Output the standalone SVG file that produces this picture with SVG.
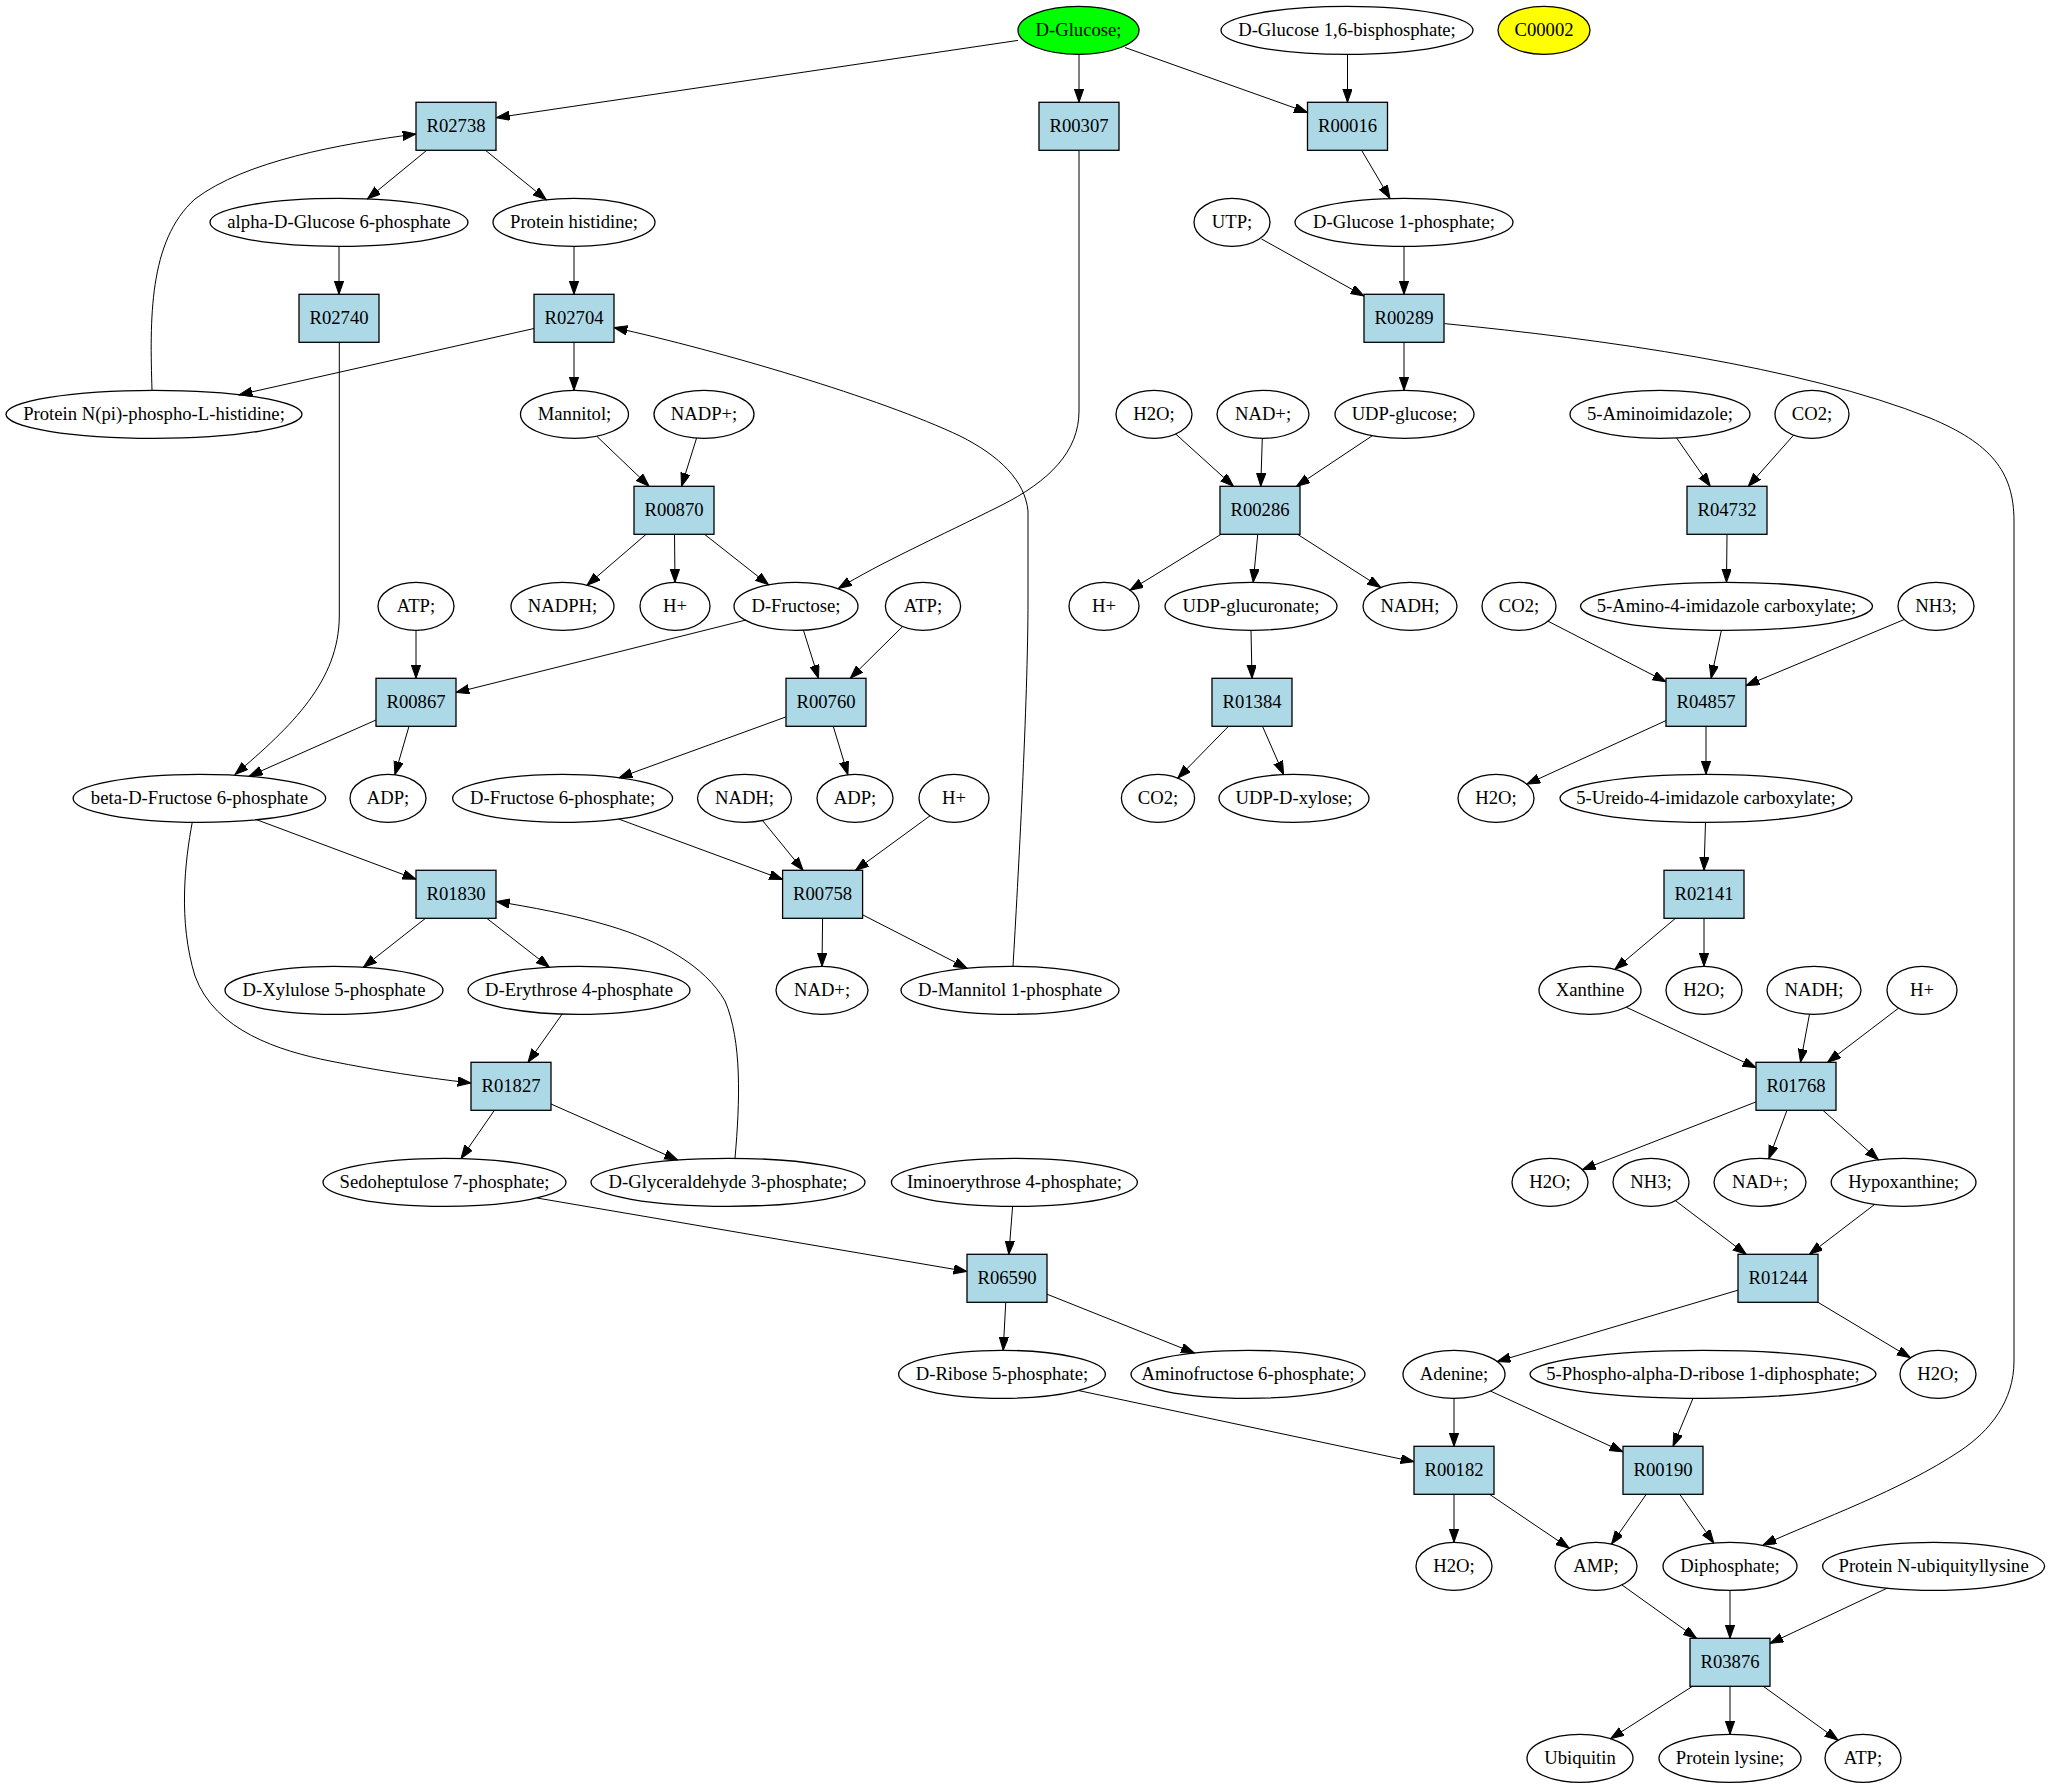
<svg xmlns="http://www.w3.org/2000/svg" width="2051" height="1787" viewBox="0 0 2051 1787">
<style>
.e{fill:none;stroke:#000;stroke-width:1.3}
.b{fill:#add8e6;stroke:#000;stroke-width:1.3}
text{font-family:"Liberation Serif","Times New Roman",serif;font-size:18.67px;text-anchor:middle;fill:#000}
#edges path{fill:none;stroke:#000;stroke-width:1;marker-end:url(#ah)}
</style>
<defs>
<marker id="ah" markerUnits="userSpaceOnUse" markerWidth="14" markerHeight="10" refX="13.3" refY="4.67" orient="auto">
<path d="M0,0 L13.3,4.67 L0,9.33 Z" fill="#000" stroke="#000" stroke-width="1"/>
</marker>
</defs>
<rect width="2051" height="1787" fill="#fff"/>
<g transform="translate(0,1)">
<g id="edges">
<path d="M1018,39.4 L496.4,116.7"/>
<path d="M1079,53.3 L1079,101.3"/>
<path d="M1125,46.5 L1307.5,111.5"/>
<path d="M1347.5,53.3 L1347.5,101.3"/>
<path d="M426.75,149.3 L367.5,197.9"/>
<path d="M485.5,149.3 L546.3,198.7"/>
<path d="M152,389.3 C150,320 148,240 195,198 C245,160 340,143 416,133"/>
<path d="M339,245.3 L339,293.3"/>
<path d="M574,245.3 L574,293.3"/>
<path d="M339.3,341.3 L339.3,615 C339,680 292,725 235,773.5"/>
<path d="M534,327.5 L239,393.8"/>
<path d="M574,341.3 L574,389.3"/>
<path d="M1013,965.3 C1018,880 1028,700 1028,600 L1028,510 C1025,480 1000,455 960,435 C880,397 720,350 614,326.5"/>
<path d="M1361.6,149.3 L1390,197.5"/>
<path d="M1261.5,238 L1364,295"/>
<path d="M1404,245.3 L1404,293.3"/>
<path d="M1404,341.3 L1404,389.3"/>
<path d="M1444.5,322.6 C1600,338 1800,365 1930,417 C1990,442 2014,470 2014,520 L2014,1360 C2014,1400 1990,1430 1960,1450 C1900,1490 1820,1518 1763,1544"/>
<path d="M597,435.5 L649.1,485.3"/>
<path d="M696.6,437 L681.5,485.3"/>
<path d="M646.1,533.3 L587,584.2"/>
<path d="M674.5,533.3 L675,581.3"/>
<path d="M704.5,533.3 L768.6,583.8"/>
<path d="M1079,149.3 L1079,410 C1079,450 1050,480 1000,505 C940,535 880,562 838.4,587.5"/>
<path d="M1175.7,433 L1233.5,485.3"/>
<path d="M1262.3,437.3 L1260.75,485.3"/>
<path d="M1372.5,434.6 L1296.4,485.3"/>
<path d="M1221,533.3 L1130,589.3"/>
<path d="M1257.75,533.3 L1253.2,581.3"/>
<path d="M1297.5,533.3 L1380.7,586.5"/>
<path d="M1676.5,436.9 L1710.25,485.3"/>
<path d="M1793.6,434.1 L1748.25,485.3"/>
<path d="M1727,533.3 L1726.5,581.3"/>
<path d="M416,629.3 L416,677.3"/>
<path d="M746,619 L456,691.5"/>
<path d="M803.4,629.1 L818.5,677.3"/>
<path d="M902.6,625.5 L850.25,677.3"/>
<path d="M1251,629.3 L1252,677.3"/>
<path d="M1548,620.2 L1666,680.8"/>
<path d="M1721.4,629.3 L1711.1,677.3"/>
<path d="M1904.3,618.5 L1746,684.6"/>
<path d="M376,719 L249.2,775.2"/>
<path d="M409,725.3 L394.9,773.7"/>
<path d="M786,715.9 L619.1,776.7"/>
<path d="M833.25,725.3 L847.9,773.7"/>
<path d="M1228.5,725.3 L1177.8,777.1"/>
<path d="M1262.5,725.3 L1283.6,773.5"/>
<path d="M1666,719.6 L1526.8,783.2"/>
<path d="M1706,725.3 L1706,773.3"/>
<path d="M256.6,818.7 L416,878.3"/>
<path d="M192.3,821 C185,860 178,920 195,975 C215,1030 280,1050 330,1060 C380,1070 420,1076 471,1082"/>
<path d="M618.6,818 L782.6,878.5"/>
<path d="M762.5,819.5 L803.1,869.3"/>
<path d="M930,814.8 L855.45,869.3"/>
<path d="M1705.5,821.3 L1704,869.3"/>
<path d="M425.5,917.3 L363.4,966.2"/>
<path d="M486.75,917.3 L549.4,966.2"/>
<path d="M735,1157.3 C740,1100 742,1040 725,1000 C705,965 660,940 610,925 C570,913 530,906 496.4,900.5"/>
<path d="M822.6,917.3 L822,965.3"/>
<path d="M862.6,913.8 L967,967.3"/>
<path d="M1675.5,917.3 L1614.9,968.4"/>
<path d="M1704,917.3 L1704,965.3"/>
<path d="M562.2,1013 L528,1061.3"/>
<path d="M1626.2,1006.2 L1756,1066.7"/>
<path d="M1809.5,1013.2 L1800.5,1061.3"/>
<path d="M1898.6,1007.1 L1827.5,1061.3"/>
<path d="M494.4,1109.3 L461,1157.5"/>
<path d="M551,1103 L677.6,1159"/>
<path d="M1756,1100.9 L1582.3,1168.7"/>
<path d="M1787,1109.3 L1768.8,1157.7"/>
<path d="M1822.9,1109.3 L1878.4,1158.8"/>
<path d="M537,1197 L967,1270.5"/>
<path d="M1012.6,1205.3 L1008.85,1253.3"/>
<path d="M1675.4,1199.7 L1746.25,1253.3"/>
<path d="M1874.8,1203.3 L1809.4,1253.3"/>
<path d="M1005.75,1301.3 L1003.2,1349.3"/>
<path d="M1047,1293.2 L1194.4,1352"/>
<path d="M1738,1289.2 L1497.2,1360.5"/>
<path d="M1818,1301.3 L1910.4,1356.8"/>
<path d="M1078.3,1389.5 L1414,1460.8"/>
<path d="M1454,1397.3 L1454,1445.3"/>
<path d="M1490.5,1390.1 L1623,1450.9"/>
<path d="M1693,1397.3 L1673,1445.3"/>
<path d="M1454,1493.3 L1454,1541.3"/>
<path d="M1489.5,1493.3 L1569.2,1547.2"/>
<path d="M1646.25,1493.3 L1611.5,1543.1"/>
<path d="M1679.75,1493.3 L1713.8,1542"/>
<path d="M1621.9,1583.9 L1696.5,1637.3"/>
<path d="M1730,1589.3 L1730,1637.3"/>
<path d="M1887.3,1587.1 L1770,1642.4"/>
<path d="M1692.5,1685.3 L1610.6,1737.7"/>
<path d="M1730,1685.3 L1730,1733.3"/>
<path d="M1763.25,1685.3 L1838,1739.2"/>
</g>
<!-- rank 0 -->
<g id="n_dglucose"><ellipse class="e" cx="1078.5" cy="29.3" rx="60.5" ry="24" style="fill:#00ff00"/><text x="1078.5" y="35.3">D-Glucose;</text></g>
<g id="n_dglc16bp"><ellipse class="e" cx="1347" cy="29.3" rx="126" ry="24"/><text x="1347" y="35.3">D-Glucose 1,6-bisphosphate;</text></g>
<g id="n_c00002"><ellipse class="e" cx="1544" cy="29.3" rx="46" ry="24" style="fill:#ffff00"/><text x="1544" y="35.3">C00002</text></g>
<!-- rank 1 -->
<g id="R02738"><rect class="b" x="416" y="101.3" width="80" height="48"/><text x="456" y="131.3">R02738</text></g>
<g id="R00307"><rect class="b" x="1039" y="101.3" width="80" height="48"/><text x="1079" y="131.3">R00307</text></g>
<g id="R00016"><rect class="b" x="1307.5" y="101.3" width="80" height="48"/><text x="1347.5" y="131.3">R00016</text></g>
<!-- rank 2 -->
<g id="n_ag6p"><ellipse class="e" cx="339" cy="221.3" rx="129" ry="24"/><text x="339" y="227.3">alpha-D-Glucose 6-phosphate</text></g>
<g id="n_prothis"><ellipse class="e" cx="574" cy="221.3" rx="81" ry="24"/><text x="574" y="227.3">Protein histidine;</text></g>
<g id="n_utp"><ellipse class="e" cx="1232" cy="221.3" rx="38" ry="24"/><text x="1232" y="227.3">UTP;</text></g>
<g id="n_g1p"><ellipse class="e" cx="1404" cy="221.3" rx="109" ry="24"/><text x="1404" y="227.3">D-Glucose 1-phosphate;</text></g>
<!-- rank 3 -->
<g id="R02740"><rect class="b" x="299" y="293.3" width="80" height="48"/><text x="339" y="323.3">R02740</text></g>
<g id="R02704"><rect class="b" x="534" y="293.3" width="80" height="48"/><text x="574" y="323.3">R02704</text></g>
<g id="R00289"><rect class="b" x="1364" y="293.3" width="80" height="48"/><text x="1404" y="323.3">R00289</text></g>
<!-- rank 4 -->
<g id="n_protnpi"><ellipse class="e" cx="154" cy="413.3" rx="148" ry="24"/><text x="154" y="419.3">Protein N(pi)-phospho-L-histidine;</text></g>
<g id="n_mannitol"><ellipse class="e" cx="574.5" cy="413.3" rx="54" ry="24"/><text x="574.5" y="419.3">Mannitol;</text></g>
<g id="n_nadp"><ellipse class="e" cx="704" cy="413.3" rx="50" ry="24"/><text x="704" y="419.3">NADP+;</text></g>
<g id="n_h2o_a"><ellipse class="e" cx="1154" cy="413.3" rx="38" ry="24"/><text x="1154" y="419.3">H2O;</text></g>
<g id="n_nad_a"><ellipse class="e" cx="1263" cy="413.3" rx="46" ry="24"/><text x="1263" y="419.3">NAD+;</text></g>
<g id="n_udpglc"><ellipse class="e" cx="1404.5" cy="413.3" rx="69.5" ry="24"/><text x="1404.5" y="419.3">UDP-glucose;</text></g>
<g id="n_5ai"><ellipse class="e" cx="1660" cy="413.3" rx="90" ry="24"/><text x="1660" y="419.3">5-Aminoimidazole;</text></g>
<g id="n_co2_a"><ellipse class="e" cx="1812" cy="413.3" rx="37" ry="24"/><text x="1812" y="419.3">CO2;</text></g>
<!-- rank 5 -->
<g id="R00870"><rect class="b" x="634" y="485.3" width="80" height="48"/><text x="674" y="515.3">R00870</text></g>
<g id="R00286"><rect class="b" x="1220" y="485.3" width="80" height="48"/><text x="1260" y="515.3">R00286</text></g>
<g id="R04732"><rect class="b" x="1687" y="485.3" width="80" height="48"/><text x="1727" y="515.3">R04732</text></g>
<!-- rank 6 -->
<g id="n_atp_a"><ellipse class="e" cx="416" cy="605.3" rx="38" ry="24"/><text x="416" y="611.3">ATP;</text></g>
<g id="n_nadph"><ellipse class="e" cx="562.5" cy="605.3" rx="51.5" ry="24"/><text x="562.5" y="611.3">NADPH;</text></g>
<g id="n_h_a"><ellipse class="e" cx="675" cy="605.3" rx="35" ry="24"/><text x="675" y="611.3">H+</text></g>
<g id="n_dfru"><ellipse class="e" cx="796" cy="605.3" rx="62" ry="24"/><text x="796" y="611.3">D-Fructose;</text></g>
<g id="n_atp_b"><ellipse class="e" cx="923" cy="605.3" rx="37.6" ry="24"/><text x="923" y="611.3">ATP;</text></g>
<g id="n_h_b"><ellipse class="e" cx="1104" cy="605.3" rx="35" ry="24"/><text x="1104" y="611.3">H+</text></g>
<g id="n_udpglcu"><ellipse class="e" cx="1251" cy="605.3" rx="86" ry="24"/><text x="1251" y="611.3">UDP-glucuronate;</text></g>
<g id="n_nadh_a"><ellipse class="e" cx="1410" cy="605.3" rx="47" ry="24"/><text x="1410" y="611.3">NADH;</text></g>
<g id="n_co2_b"><ellipse class="e" cx="1519" cy="605.3" rx="37" ry="24"/><text x="1519" y="611.3">CO2;</text></g>
<g id="n_5a4ic"><ellipse class="e" cx="1726.5" cy="605.3" rx="146" ry="24"/><text x="1726.5" y="611.3">5-Amino-4-imidazole carboxylate;</text></g>
<g id="n_nh3_a"><ellipse class="e" cx="1936" cy="605.3" rx="38" ry="24"/><text x="1936" y="611.3">NH3;</text></g>
<!-- rank 7 -->
<g id="R00867"><rect class="b" x="376" y="677.3" width="80" height="48"/><text x="416" y="707.3">R00867</text></g>
<g id="R00760"><rect class="b" x="786" y="677.3" width="80" height="48"/><text x="826" y="707.3">R00760</text></g>
<g id="R01384"><rect class="b" x="1212" y="677.3" width="80" height="48"/><text x="1252" y="707.3">R01384</text></g>
<g id="R04857"><rect class="b" x="1666" y="677.3" width="80" height="48"/><text x="1706" y="707.3">R04857</text></g>
<!-- rank 8 -->
<g id="n_bf6p"><ellipse class="e" cx="199.4" cy="797.3" rx="126.3" ry="24"/><text x="199.4" y="803.3">beta-D-Fructose 6-phosphate</text></g>
<g id="n_adp_a"><ellipse class="e" cx="388" cy="797.3" rx="38" ry="24"/><text x="388" y="803.3">ADP;</text></g>
<g id="n_df6p"><ellipse class="e" cx="562.6" cy="797.3" rx="110" ry="24"/><text x="562.6" y="803.3">D-Fructose 6-phosphate;</text></g>
<g id="n_nadh_b"><ellipse class="e" cx="744.5" cy="797.3" rx="47" ry="24"/><text x="744.5" y="803.3">NADH;</text></g>
<g id="n_adp_b"><ellipse class="e" cx="855" cy="797.3" rx="38" ry="24"/><text x="855" y="803.3">ADP;</text></g>
<g id="n_h_c"><ellipse class="e" cx="954" cy="797.3" rx="35" ry="24"/><text x="954" y="803.3">H+</text></g>
<g id="n_co2_c"><ellipse class="e" cx="1158" cy="797.3" rx="36.6" ry="24"/><text x="1158" y="803.3">CO2;</text></g>
<g id="n_udpxyl"><ellipse class="e" cx="1294" cy="797.3" rx="75" ry="24"/><text x="1294" y="803.3">UDP-D-xylose;</text></g>
<g id="n_h2o_b"><ellipse class="e" cx="1496" cy="797.3" rx="38" ry="24"/><text x="1496" y="803.3">H2O;</text></g>
<g id="n_5u4ic"><ellipse class="e" cx="1706" cy="797.3" rx="146" ry="24"/><text x="1706" y="803.3">5-Ureido-4-imidazole carboxylate;</text></g>
<!-- rank 9 -->
<g id="R01830"><rect class="b" x="416" y="869.3" width="80" height="48"/><text x="456" y="899.3">R01830</text></g>
<g id="R00758"><rect class="b" x="782.6" y="869.3" width="80" height="48"/><text x="822.6" y="899.3">R00758</text></g>
<g id="R02141"><rect class="b" x="1664" y="869.3" width="80" height="48"/><text x="1704" y="899.3">R02141</text></g>
<!-- rank 10 -->
<g id="n_xu5p"><ellipse class="e" cx="334" cy="989.3" rx="109" ry="24"/><text x="334" y="995.3">D-Xylulose 5-phosphate</text></g>
<g id="n_e4p"><ellipse class="e" cx="579" cy="989.3" rx="111" ry="24"/><text x="579" y="995.3">D-Erythrose 4-phosphate</text></g>
<g id="n_nad_b"><ellipse class="e" cx="822" cy="989.3" rx="46" ry="24"/><text x="822" y="995.3">NAD+;</text></g>
<g id="n_m1p"><ellipse class="e" cx="1010" cy="989.3" rx="109" ry="24"/><text x="1010" y="995.3">D-Mannitol 1-phosphate</text></g>
<g id="n_xanthine"><ellipse class="e" cx="1590" cy="989.3" rx="51" ry="24"/><text x="1590" y="995.3">Xanthine</text></g>
<g id="n_h2o_c"><ellipse class="e" cx="1704" cy="989.3" rx="38" ry="24"/><text x="1704" y="995.3">H2O;</text></g>
<g id="n_nadh_c"><ellipse class="e" cx="1814" cy="989.3" rx="47" ry="24"/><text x="1814" y="995.3">NADH;</text></g>
<g id="n_h_d"><ellipse class="e" cx="1922" cy="989.3" rx="35" ry="24"/><text x="1922" y="995.3">H+</text></g>
<!-- rank 11 -->
<g id="R01827"><rect class="b" x="471" y="1061.3" width="80" height="48"/><text x="511" y="1091.3">R01827</text></g>
<g id="R01768"><rect class="b" x="1756" y="1061.3" width="80" height="48"/><text x="1796" y="1091.3">R01768</text></g>
<!-- rank 12 -->
<g id="n_s7p"><ellipse class="e" cx="444.5" cy="1181.3" rx="121.5" ry="24"/><text x="444.5" y="1187.3">Sedoheptulose 7-phosphate;</text></g>
<g id="n_g3p"><ellipse class="e" cx="728" cy="1181.3" rx="137" ry="24"/><text x="728" y="1187.3">D-Glyceraldehyde 3-phosphate;</text></g>
<g id="n_imino"><ellipse class="e" cx="1014.4" cy="1181.3" rx="123" ry="24"/><text x="1014.4" y="1187.3">Iminoerythrose 4-phosphate;</text></g>
<g id="n_h2o_d"><ellipse class="e" cx="1550" cy="1181.3" rx="38" ry="24"/><text x="1550" y="1187.3">H2O;</text></g>
<g id="n_nh3_b"><ellipse class="e" cx="1651" cy="1181.3" rx="38" ry="24"/><text x="1651" y="1187.3">NH3;</text></g>
<g id="n_nad_c"><ellipse class="e" cx="1760" cy="1181.3" rx="46" ry="24"/><text x="1760" y="1187.3">NAD+;</text></g>
<g id="n_hypox"><ellipse class="e" cx="1903.6" cy="1181.3" rx="72.4" ry="24"/><text x="1903.6" y="1187.3">Hypoxanthine;</text></g>
<!-- rank 13 -->
<g id="R06590"><rect class="b" x="967" y="1253.3" width="80" height="48"/><text x="1007" y="1283.3">R06590</text></g>
<g id="R01244"><rect class="b" x="1738" y="1253.3" width="80" height="48"/><text x="1778" y="1283.3">R01244</text></g>
<!-- rank 14 -->
<g id="n_r5p"><ellipse class="e" cx="1002" cy="1373.3" rx="103.4" ry="24"/><text x="1002" y="1379.3">D-Ribose 5-phosphate;</text></g>
<g id="n_af6p"><ellipse class="e" cx="1248" cy="1373.3" rx="117" ry="24"/><text x="1248" y="1379.3">Aminofructose 6-phosphate;</text></g>
<g id="n_adenine"><ellipse class="e" cx="1454" cy="1373.3" rx="51" ry="24"/><text x="1454" y="1379.3">Adenine;</text></g>
<g id="n_prpp"><ellipse class="e" cx="1703" cy="1373.3" rx="173" ry="24"/><text x="1703" y="1379.3">5-Phospho-alpha-D-ribose 1-diphosphate;</text></g>
<g id="n_h2o_e"><ellipse class="e" cx="1938" cy="1373.3" rx="38" ry="24"/><text x="1938" y="1379.3">H2O;</text></g>
<!-- rank 15 -->
<g id="R00182"><rect class="b" x="1414" y="1445.3" width="80" height="48"/><text x="1454" y="1475.3">R00182</text></g>
<g id="R00190"><rect class="b" x="1623" y="1445.3" width="80" height="48"/><text x="1663" y="1475.3">R00190</text></g>
<!-- rank 16 -->
<g id="n_h2o_f"><ellipse class="e" cx="1454" cy="1565.3" rx="38" ry="24"/><text x="1454" y="1571.3">H2O;</text></g>
<g id="n_amp"><ellipse class="e" cx="1596" cy="1565.3" rx="41" ry="24"/><text x="1596" y="1571.3">AMP;</text></g>
<g id="n_ppi"><ellipse class="e" cx="1730" cy="1565.3" rx="67" ry="24"/><text x="1730" y="1571.3">Diphosphate;</text></g>
<g id="n_protub"><ellipse class="e" cx="1933.6" cy="1565.3" rx="111" ry="24"/><text x="1933.6" y="1571.3">Protein N-ubiquityllysine</text></g>
<!-- rank 17 -->
<g id="R03876"><rect class="b" x="1690" y="1637.3" width="80" height="48"/><text x="1730" y="1667.3">R03876</text></g>
<!-- rank 18 -->
<g id="n_ubiquitin"><ellipse class="e" cx="1580" cy="1757.3" rx="53" ry="24"/><text x="1580" y="1763.3">Ubiquitin</text></g>
<g id="n_protlys"><ellipse class="e" cx="1730" cy="1757.3" rx="71" ry="24"/><text x="1730" y="1763.3">Protein lysine;</text></g>
<g id="n_atp_c"><ellipse class="e" cx="1863" cy="1757.3" rx="38" ry="24"/><text x="1863" y="1763.3">ATP;</text></g>
</g>
</svg>
